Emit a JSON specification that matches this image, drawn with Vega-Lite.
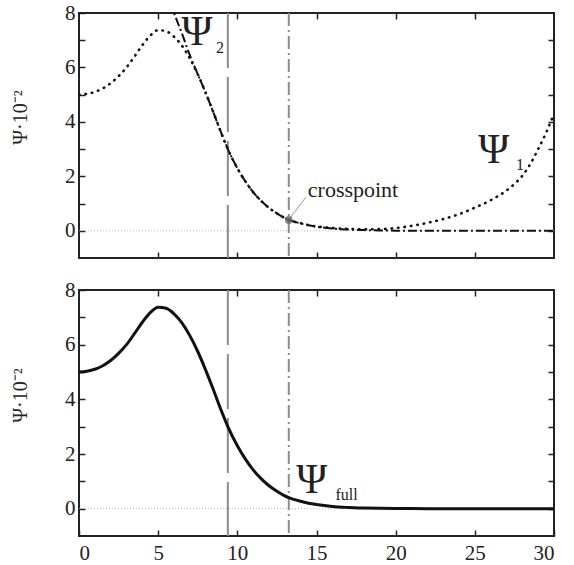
{
  "$schema": "https://vega.github.io/schema/vega-lite/v6.json",
  "padding": {"left": 9, "top": 1, "right": 5, "bottom": 0},
  "background": "white",
  "spacing": 18,
  "config": {
    "view": {"stroke": "#222", "strokeWidth": 2},
    "axis": {"domain": false, "grid": false, "tickColor": "#222", "tickSize": -6, "tickWidth": 1.5, "labelFont": "'Liberation Serif', 'Times New Roman', serif", "labelFontSize": 21, "labelColor": "#222", "labelPadding": 10, "titleFont": "'Liberation Serif', 'Times New Roman', serif", "titleFontWeight": "normal", "titleFontSize": 20, "titleColor": "#222"},
    "text": {"font": "'Liberation Serif', 'Times New Roman', serif", "color": "#222"}
  },
  "datasets": {
    "full": [
      {"x": 0, "v": 5.0}, {"x": 0.5, "v": 5.03}, {"x": 1, "v": 5.1}, {"x": 1.5, "v": 5.23}, {"x": 2, "v": 5.42}, {"x": 2.5, "v": 5.68}, {"x": 3, "v": 6.0}, {"x": 3.5, "v": 6.4}, {"x": 4, "v": 6.82}, {"x": 4.5, "v": 7.17}, {"x": 5, "v": 7.37}, {"x": 5.5, "v": 7.33}, {"x": 6, "v": 7.13}, {"x": 6.5, "v": 6.8}, {"x": 7, "v": 6.33}, {"x": 7.5, "v": 5.75}, {"x": 8, "v": 5.07}, {"x": 8.5, "v": 4.33}, {"x": 9, "v": 3.57}, {"x": 9.4, "v": 3.0}, {"x": 10, "v": 2.3}, {"x": 10.5, "v": 1.82}, {"x": 11, "v": 1.42}, {"x": 11.5, "v": 1.1}, {"x": 12, "v": 0.84}, {"x": 12.5, "v": 0.64}, {"x": 13, "v": 0.47}, {"x": 13.25, "v": 0.4}, {"x": 13.5, "v": 0.35}, {"x": 14, "v": 0.27}, {"x": 14.5, "v": 0.2}, {"x": 15, "v": 0.15}, {"x": 16, "v": 0.08}, {"x": 17, "v": 0.045}, {"x": 18, "v": 0.025}, {"x": 19, "v": 0.012}, {"x": 20, "v": 0.005}, {"x": 21, "v": 0.002}, {"x": 22, "v": 0}, {"x": 24, "v": 0}, {"x": 26, "v": 0}, {"x": 28, "v": 0}, {"x": 30, "v": 0}
    ],
    "psi1": [
      {"x": 0, "v": 5.0}, {"x": 0.5, "v": 5.03}, {"x": 1, "v": 5.1}, {"x": 1.5, "v": 5.23}, {"x": 2, "v": 5.42}, {"x": 2.5, "v": 5.68}, {"x": 3, "v": 6.0}, {"x": 3.5, "v": 6.4}, {"x": 4, "v": 6.82}, {"x": 4.5, "v": 7.17}, {"x": 5, "v": 7.37}, {"x": 5.5, "v": 7.33}, {"x": 6, "v": 7.13}, {"x": 6.5, "v": 6.8}, {"x": 7, "v": 6.33}, {"x": 7.5, "v": 5.75}, {"x": 8, "v": 5.07}, {"x": 8.5, "v": 4.33}, {"x": 9, "v": 3.57}, {"x": 9.4, "v": 3.0}, {"x": 10, "v": 2.3}, {"x": 10.5, "v": 1.82}, {"x": 11, "v": 1.42}, {"x": 11.5, "v": 1.1}, {"x": 12, "v": 0.84}, {"x": 12.5, "v": 0.64}, {"x": 13, "v": 0.47}, {"x": 13.25, "v": 0.4}, {"x": 13.5, "v": 0.35}, {"x": 14, "v": 0.28}, {"x": 14.5, "v": 0.21}, {"x": 15, "v": 0.16}, {"x": 16, "v": 0.1}, {"x": 17, "v": 0.07}, {"x": 18, "v": 0.055}, {"x": 19, "v": 0.06}, {"x": 20, "v": 0.1}, {"x": 21, "v": 0.18}, {"x": 22, "v": 0.29}, {"x": 23, "v": 0.43}, {"x": 24, "v": 0.61}, {"x": 25, "v": 0.85}, {"x": 26, "v": 1.12}, {"x": 27, "v": 1.48}, {"x": 27.5, "v": 1.72}, {"x": 28, "v": 2.02}, {"x": 28.5, "v": 2.45}, {"x": 29, "v": 3.0}, {"x": 29.5, "v": 3.6}, {"x": 30, "v": 4.3}
    ],
    "psi2": [
      {"x": 5.4, "v": 9.0}, {"x": 5.7, "v": 8.5}, {"x": 6, "v": 8.0}, {"x": 6.5, "v": 7.25}, {"x": 7, "v": 6.45}, {"x": 7.5, "v": 5.75}, {"x": 8, "v": 5.07}, {"x": 8.5, "v": 4.33}, {"x": 9, "v": 3.57}, {"x": 9.4, "v": 3.0}, {"x": 10, "v": 2.3}, {"x": 10.5, "v": 1.82}, {"x": 11, "v": 1.42}, {"x": 11.5, "v": 1.1}, {"x": 12, "v": 0.84}, {"x": 12.5, "v": 0.64}, {"x": 13, "v": 0.47}, {"x": 13.25, "v": 0.4}, {"x": 13.5, "v": 0.35}, {"x": 14, "v": 0.27}, {"x": 14.5, "v": 0.2}, {"x": 15, "v": 0.15}, {"x": 16, "v": 0.08}, {"x": 17, "v": 0.045}, {"x": 18, "v": 0.025}, {"x": 19, "v": 0.012}, {"x": 20, "v": 0.005}, {"x": 21, "v": 0.002}, {"x": 22, "v": 0}, {"x": 24, "v": 0}, {"x": 26, "v": 0}, {"x": 28, "v": 0}, {"x": 30, "v": 0}
    ],
    "vlines": [{"x": 9.4, "k": "dash"}, {"x": 13.25, "k": "dashdot"}],
    "zero": [{"z": 0}],
    "bigTop": [{"x": 7.45, "y": 7.3, "t": "Ψ"}, {"x": 26.2, "y": 2.95, "t": "Ψ"}],
    "subTop": [{"x": 8.9, "y": 6.7, "t": "2"}, {"x": 27.86, "y": 2.4, "t": "1"}],
    "bigBot": [{"x": 14.7, "y": 1.05, "t": "Ψ"}],
    "subBot": [{"x": 16.9, "y": 0.5, "t": "full"}],
    "cross": [{"x": 13.25, "y": 0.4}],
    "leader": [{"x": 13.3, "y": 0.45, "x2": 14.35, "y2": 1.25}],
    "crossText": [{"x": 14.45, "y": 1.48, "t": "crosspoint"}]
  },
  "vconcat": [
    {
      "width": 475,
      "height": 245,
      "resolve": {"axis": {"x": "independent", "y": "independent"}},
      "layer": [
        {
          "data": {"name": "zero"},
          "mark": {"type": "rule", "color": "#aaaaaa", "strokeWidth": 0.8, "strokeDash": [1, 2]},
          "encoding": {
            "y": {"field": "z", "type": "quantitative", "scale": {"domain": [-1, 8], "nice": false, "zero": false}, "axis": {"orient": "right", "labels": false, "title": null, "values": [0, 1, 2, 3, 4, 5, 6, 7]}}
          }
        },
        {
          "data": {"name": "vlines"},
          "mark": {"type": "rule", "color": "#8c8c8c", "strokeWidth": 2},
          "encoding": {
            "x": {"field": "x", "type": "quantitative", "scale": {"domain": [0, 30], "nice": false, "zero": false}, "axis": {"orient": "top", "labels": false, "title": null, "values": [5, 10, 15, 20, 25]}},
            "strokeDash": {"field": "k", "type": "nominal", "scale": {"domain": ["dash", "dashdot"], "range": [[55, 9], [13, 4, 2, 4]]}, "legend": null}
          }
        },
        {
          "data": {"name": "psi1"},
          "mark": {"type": "line", "color": "#111111", "strokeWidth": 2.6, "strokeDash": [0.5, 6], "strokeCap": "round", "interpolate": "monotone", "clip": true},
          "encoding": {
            "x": {"field": "x", "type": "quantitative", "scale": {"domain": [0, 30], "nice": false, "zero": false}, "axis": {"orient": "bottom", "labels": false, "title": null, "values": [5, 10, 15, 20, 25]}},
            "y": {"field": "v", "type": "quantitative", "scale": {"domain": [-1, 8], "nice": false, "zero": false}, "axis": {"orient": "left", "title": "Ψ·10⁻²", "values": [0, 1, 2, 3, 4, 5, 6, 7, 8], "labelExpr": "datum.value % 2 == 0 ? datum.label : ''", "titleX": -49, "titleY": 104, "titleAngle": -90}}
          }
        },
        {
          "data": {"name": "psi2"},
          "mark": {"type": "line", "color": "#111111", "strokeWidth": 2, "strokeDash": [9, 3, 2, 3], "interpolate": "monotone", "clip": true},
          "encoding": {
            "x": {"field": "x", "type": "quantitative", "axis": null},
            "y": {"field": "v", "type": "quantitative", "axis": null}
          }
        },
        {
          "data": {"name": "leader"},
          "mark": {"type": "rule", "color": "#999999", "strokeWidth": 1},
          "encoding": {
            "x": {"field": "x", "type": "quantitative", "axis": null},
            "y": {"field": "y", "type": "quantitative", "axis": null},
            "x2": {"field": "x2"},
            "y2": {"field": "y2"}
          }
        },
        {
          "data": {"name": "cross"},
          "mark": {"type": "point", "shape": "circle", "filled": true, "color": "#666666", "opacity": 0.8, "size": 60},
          "encoding": {
            "x": {"field": "x", "type": "quantitative", "axis": null},
            "y": {"field": "y", "type": "quantitative", "axis": null}
          }
        },
        {
          "data": {"name": "crossText"},
          "mark": {"type": "text", "align": "left", "baseline": "middle", "fontSize": 22},
          "encoding": {
            "x": {"field": "x", "type": "quantitative", "axis": null},
            "y": {"field": "y", "type": "quantitative", "axis": null},
            "text": {"field": "t"}
          }
        },
        {
          "data": {"name": "bigTop"},
          "mark": {"type": "text", "align": "center", "baseline": "middle", "fontSize": 42},
          "encoding": {
            "x": {"field": "x", "type": "quantitative", "axis": null},
            "y": {"field": "y", "type": "quantitative", "axis": null},
            "text": {"field": "t"}
          }
        },
        {
          "data": {"name": "subTop"},
          "mark": {"type": "text", "align": "center", "baseline": "middle", "fontSize": 16},
          "encoding": {
            "x": {"field": "x", "type": "quantitative", "axis": null},
            "y": {"field": "y", "type": "quantitative", "axis": null},
            "text": {"field": "t"}
          }
        }
      ]
    },
    {
      "width": 475,
      "height": 246,
      "resolve": {"axis": {"x": "independent", "y": "independent"}},
      "layer": [
        {
          "data": {"name": "zero"},
          "mark": {"type": "rule", "color": "#aaaaaa", "strokeWidth": 0.8, "strokeDash": [1, 2]},
          "encoding": {
            "y": {"field": "z", "type": "quantitative", "scale": {"domain": [-1, 8], "nice": false, "zero": false}, "axis": {"orient": "right", "labels": false, "title": null, "values": [0, 1, 2, 3, 4, 5, 6, 7]}}
          }
        },
        {
          "data": {"name": "vlines"},
          "mark": {"type": "rule", "color": "#8c8c8c", "strokeWidth": 2},
          "encoding": {
            "x": {"field": "x", "type": "quantitative", "scale": {"domain": [0, 30], "nice": false, "zero": false}, "axis": {"orient": "top", "labels": false, "title": null, "values": [5, 10, 15, 20, 25]}},
            "strokeDash": {"field": "k", "type": "nominal", "scale": {"domain": ["dash", "dashdot"], "range": [[55, 9], [13, 4, 2, 4]]}, "legend": null}
          }
        },
        {
          "data": {"name": "full"},
          "mark": {"type": "line", "color": "#111111", "strokeWidth": 3, "interpolate": "monotone", "clip": true},
          "encoding": {
            "x": {"field": "x", "type": "quantitative", "scale": {"domain": [0, 30], "nice": false, "zero": false}, "axis": {"orient": "bottom", "title": null, "values": [0, 5, 10, 15, 20, 25, 30], "labelPadding": 12}},
            "y": {"field": "v", "type": "quantitative", "scale": {"domain": [-1, 8], "nice": false, "zero": false}, "axis": {"orient": "left", "title": "Ψ·10⁻²", "values": [0, 1, 2, 3, 4, 5, 6, 7, 8], "labelExpr": "datum.value % 2 == 0 ? datum.label : ''", "titleX": -49, "titleY": 105, "titleAngle": -90}}
          }
        },
        {
          "data": {"name": "bigBot"},
          "mark": {"type": "text", "align": "center", "baseline": "middle", "fontSize": 42},
          "encoding": {
            "x": {"field": "x", "type": "quantitative", "axis": null},
            "y": {"field": "y", "type": "quantitative", "axis": null},
            "text": {"field": "t"}
          }
        },
        {
          "data": {"name": "subBot"},
          "mark": {"type": "text", "align": "center", "baseline": "middle", "fontSize": 16},
          "encoding": {
            "x": {"field": "x", "type": "quantitative", "axis": null},
            "y": {"field": "y", "type": "quantitative", "axis": null},
            "text": {"field": "t"}
          }
        }
      ]
    }
  ]
}
